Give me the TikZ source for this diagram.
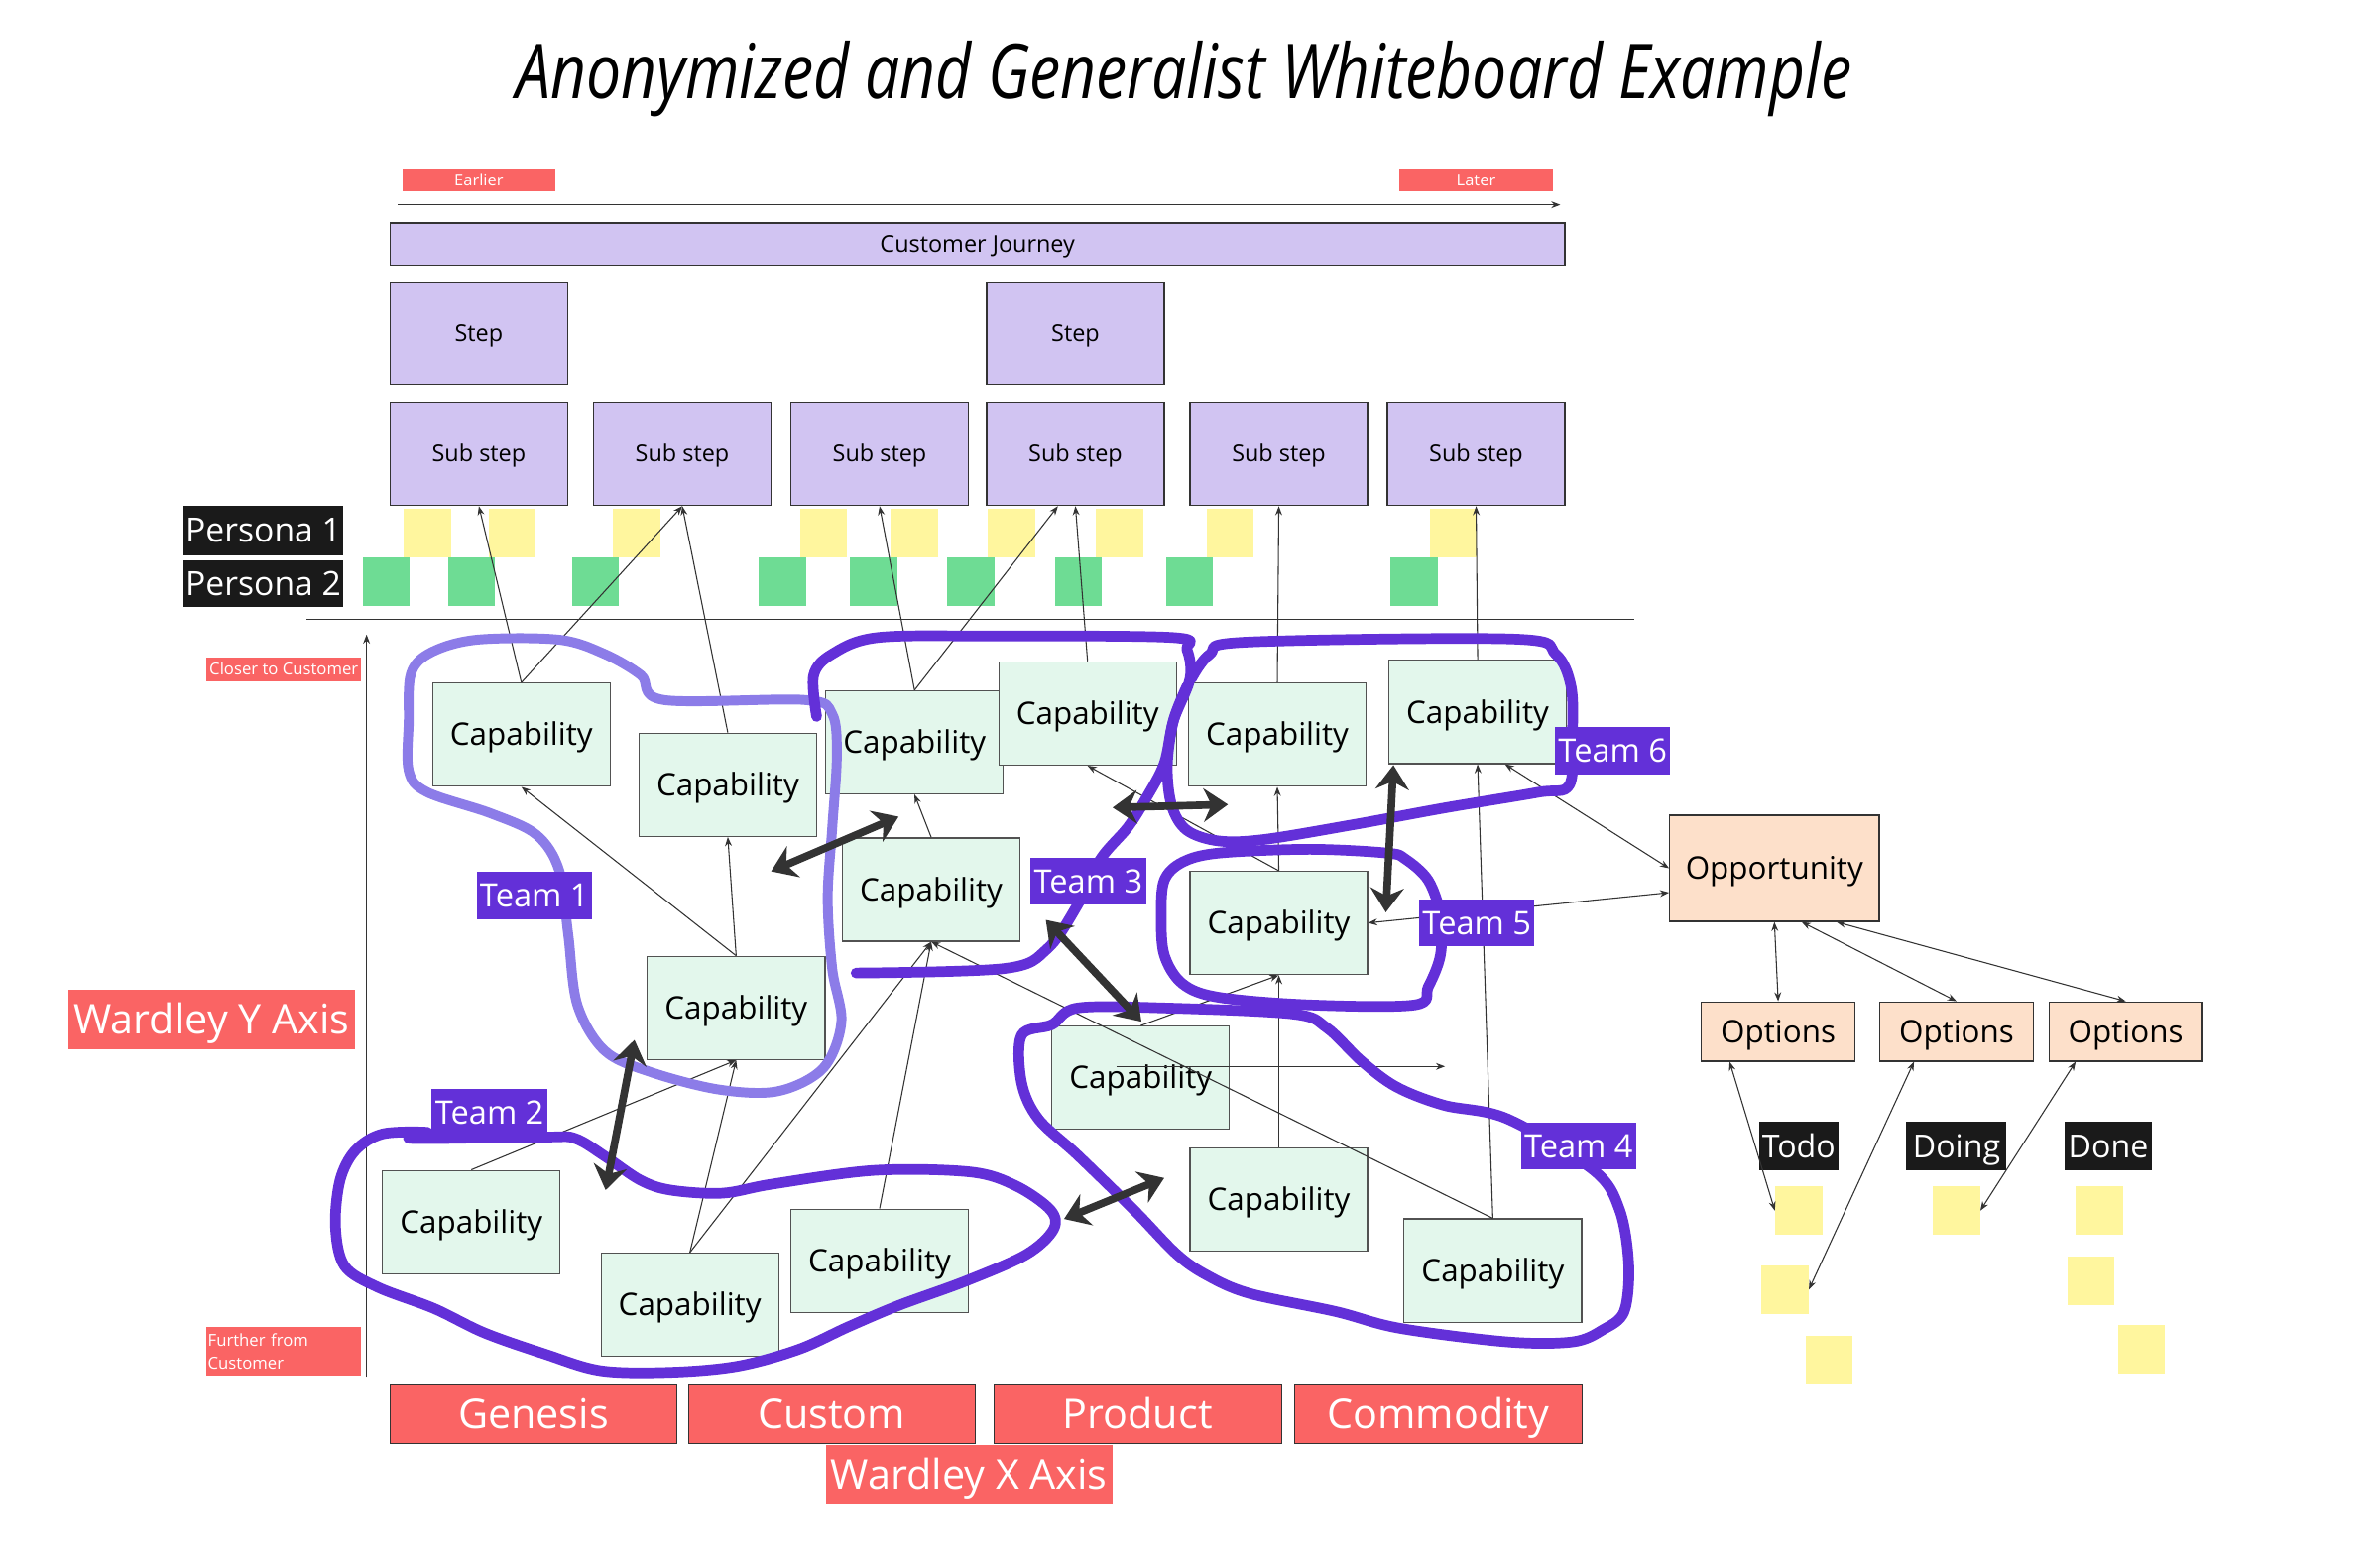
\documentclass[tikz,border=0pt]{standalone}
\usepackage{fontspec}
\setmainfont{Open Sans}
\usepackage{graphicx}
\usetikzlibrary{arrows.meta}

\definecolor{lav}{RGB}{209,196,242}
\definecolor{mint}{RGB}{227,247,236}
\definecolor{peach}{RGB}{253,224,202}
\definecolor{coral}{RGB}{250,100,100}
\definecolor{stickyyellow}{RGB}{255,246,158}
\definecolor{stickygreen}{RGB}{110,220,148}
\definecolor{teamdark}{RGB}{99,48,216}
\definecolor{teamlight}{RGB}{140,124,232}
\definecolor{ink}{RGB}{51,51,51}
\definecolor{tagblack}{RGB}{26,26,26}

\begin{document}
\begin{tikzpicture}[x=1pt, y=-1pt,
  journey/.style={draw=ink, fill=lav, line width=0.8pt, inner sep=0pt, text height=10.9pt, text depth=0pt, font=\fontsize{15.3}{18}\selectfont},
  capbox/.style={draw=ink!85, fill=mint, line width=0.8pt, minimum width=117pt, minimum height=68pt, inner sep=0pt, text height=14.6pt, text depth=0pt, font=\fontsize{20.5}{24}\selectfont},
  peachbox/.style={draw=ink, fill=peach, line width=0.8pt, inner sep=0pt, text height=14.6pt, text depth=0pt, font=\fontsize{20.5}{24}\selectfont},
  redtag/.style={fill=coral, text=white, inner sep=0pt},
  bigtag/.style={redtag, minimum width=189pt, minimum height=39pt, text height=19.3pt, text depth=0pt, font=\fontsize{27}{30}\selectfont},
  blacktag/.style={fill=tagblack, text=white, inner sep=0pt, text height=15.7pt, text depth=0pt, font=\fontsize{22}{26}\selectfont},
  teamtag/.style={fill=teamdark, text=white, minimum width=76pt, minimum height=31pt, inner sep=0pt, text height=15.2pt, text depth=0pt, font=\fontsize{21.3}{24}\selectfont},
  yellownote/.style={fill=stickyyellow, minimum width=31pt, minimum height=32pt, inner sep=0pt},
  greennote/.style={fill=stickygreen, minimum width=31pt, minimum height=32pt, inner sep=0pt},
  link/.style={draw=ink, line width=0.7pt, -{Stealth[length=6pt,width=4.5pt]}},
  twolink/.style={draw=ink, line width=0.7pt, {Stealth[length=6pt,width=4.5pt]}-{Stealth[length=6pt,width=4.5pt]}},
  bigarrow/.style={draw=ink, line width=5pt, {Stealth[length=16pt,width=22pt]}-{Stealth[length=16pt,width=22pt]}},
  blob/.style={draw=teamdark, line width=7pt, line cap=round, line join=round}
]
\useasboundingbox (0,0) rectangle (1568,1030);

% Title
\node[inner sep=0pt] (title) at (780,52) {\resizebox*{880pt}{50pt}{\itshape Anonymized and Generalist Whiteboard Example}};

% Timeline
\node[redtag, minimum width=101pt, minimum height=15pt, text height=7.6pt, text depth=0pt, font=\fontsize{10.8}{12}\selectfont] (earlier) at (315.5,118.5) {Earlier};
\node[redtag, minimum width=101pt, minimum height=15pt, text height=7.6pt, text depth=0pt, font=\fontsize{10.8}{12}\selectfont] (later) at (972.5,118.5) {Later};
\coordinate (tlstart) at (262,135);
\coordinate (tlend) at (1028,135);
\draw[link] (tlstart) -- (tlend);

% Journey, steps and sub steps
\node[journey, minimum width=774pt, minimum height=28pt] (cj) at (644,161) {Customer Journey};
\node[journey, minimum width=117pt, minimum height=67pt] (step1) at (315.5,219.5) {Step};
\node[journey, minimum width=117pt, minimum height=67pt] (step2) at (708.5,219.5) {Step};
\node[journey, minimum width=117pt, minimum height=68pt] (ss1) at (315.5,299) {Sub step};
\node[journey, minimum width=117pt, minimum height=68pt] (ss2) at (449.5,299) {Sub step};
\node[journey, minimum width=117pt, minimum height=68pt] (ss3) at (579.5,299) {Sub step};
\node[journey, minimum width=117pt, minimum height=68pt] (ss4) at (708.5,299) {Sub step};
\node[journey, minimum width=117pt, minimum height=68pt] (ss5) at (842.5,299) {Sub step};
\node[journey, minimum width=117pt, minimum height=68pt] (ss6) at (972.5,299) {Sub step};

% Personas
\node[blacktag, minimum width=105pt, minimum height=33pt] (persona1) at (173.5,349.5) {Persona 1};
\node[blacktag, minimum width=105pt, minimum height=31pt] (persona2) at (173.5,384.5) {Persona 2};

% Persona 1 notes
\node[yellownote] (y1) at (281.5,351) {};
\node[yellownote] (y2) at (337.5,351) {};
\node[yellownote] (y3) at (419.5,351) {};
\node[yellownote] (y4) at (542.5,351) {};
\node[yellownote] (y5) at (602.5,351) {};
\node[yellownote] (y6) at (666.5,351) {};
\node[yellownote] (y7) at (737.5,351) {};
\node[yellownote] (y8) at (810.5,351) {};
\node[yellownote] (y9) at (957.5,351) {};

% Persona 2 notes
\node[greennote] (g1) at (254.5,383) {};
\node[greennote] (g2) at (310.5,383) {};
\node[greennote] (g3) at (392.5,383) {};
\node[greennote] (g4) at (515.5,383) {};
\node[greennote] (g5) at (575.5,383) {};
\node[greennote] (g6) at (639.5,383) {};
\node[greennote] (g7) at (710.5,383) {};
\node[greennote] (g8) at (783.5,383) {};
\node[greennote] (g9) at (931.5,383) {};

% Separator and axes
\coordinate (sepleft) at (202,408);
\coordinate (sepright) at (1077,408);
\draw[draw=ink, line width=1.2pt] (sepleft) -- (sepright);
\coordinate (ybottom) at (241.5,907);
\coordinate (ytop) at (241.5,418);
\draw[link] (ybottom) -- (ytop);
\node[redtag, minimum width=102pt, minimum height=16pt, text height=7.8pt, text depth=0pt, font=\fontsize{10.9}{12}\selectfont] (closer) at (187,441) {Closer to Customer};
\node[redtag, text width=100pt, align=left, inner sep=1pt, minimum height=32pt, font=\fontsize{10.9}{15}\selectfont] (further) at (187,890) {Further from\\Customer};
\node[bigtag] (yaxis) at (139.5,671.5) {Wardley Y Axis};
\node[bigtag, draw=ink] (genesis) at (351.5,931.5) {Genesis};
\node[bigtag, draw=ink] (custom) at (548,931.5) {Custom};
\node[bigtag, draw=ink] (product) at (749.5,931.5) {Product};
\node[bigtag, draw=ink] (commodity) at (947.5,931.5) {Commodity};
\node[bigtag] (xaxis) at (638.5,971.5) {Wardley X Axis};

% Capabilities
\node[capbox] (c1) at (343.5,484) {Capability};
\node[capbox] (c2) at (479.5,517) {Capability};
\node[capbox] (c3) at (485,664) {Capability};
\node[capbox] (c4) at (602.5,489) {Capability};
\node[capbox] (c5) at (613.5,586) {Capability};
\node[capbox] (c6) at (716.5,470) {Capability};
\node[capbox] (c7) at (841.5,484) {Capability};
\node[capbox] (c8) at (973.5,469) {Capability};
\node[capbox] (c9) at (842.5,608) {Capability};
\node[capbox] (c10) at (751.5,710) {Capability};
\node[capbox] (c11) at (842.5,790) {Capability};
\node[capbox] (c12) at (983.5,837) {Capability};
\node[capbox] (c13) at (310.5,805) {Capability};
\node[capbox] (c14) at (454.5,859.5) {Capability};
\node[capbox] (c15) at (579.5,830.5) {Capability};

% Opportunity, options and board
\node[peachbox, minimum width=138pt, minimum height=70pt] (opp) at (1169,572) {Opportunity};
\node[peachbox, minimum width=101pt, minimum height=39pt] (opt1) at (1171.5,679.5) {Options};
\node[peachbox, minimum width=101pt, minimum height=39pt] (opt2) at (1289,679.5) {Options};
\node[peachbox, minimum width=101pt, minimum height=39pt] (opt3) at (1400.5,679.5) {Options};
\node[blacktag, minimum width=52pt, minimum height=32pt, text height=15pt, font=\fontsize{21}{24}\selectfont] (todo) at (1185,755) {Todo};
\node[blacktag, minimum width=66pt, minimum height=32pt, text height=15pt, font=\fontsize{21}{24}\selectfont] (doing) at (1289,755) {Doing};
\node[blacktag, minimum width=58pt, minimum height=32pt, text height=15pt, font=\fontsize{21}{24}\selectfont] (done) at (1389,755) {Done};
\node[yellownote] (todo1) at (1185,797.5) {};
\node[yellownote] (todo2) at (1176,849.5) {};
\node[yellownote] (todo3) at (1205,896) {};
\node[yellownote] (doing1) at (1289,797.5) {};
\node[yellownote] (done1) at (1383,797.5) {};
\node[yellownote] (done2) at (1377.5,843.5) {};
\node[yellownote] (done3) at (1411,889) {};

% Links up to the sub steps
\draw[link] (c1.north) -- (ss1.south);
\draw[link] (c1.north) -- (ss2.south);
\draw[link] (c2.north) -- (ss2.south);
\draw[link] (c4.north) -- (ss3.south);
\draw[link] (c4.north) -- ([xshift=-11.5pt]ss4.south);
\draw[link] (c6.north) -- (ss4.south);
\draw[link] (c7.north) -- (ss5.south);
\draw[link] (c8.north) -- (ss6.south);

% Links between capabilities
\draw[link] (c3.north) -- (c1.south);
\draw[link] (c3.north) -- (c2.south);
\draw[link] (c5.north) -- (c4.south);
\draw[link] (c13.north) -- (c3.south);
\draw[link] (c14.north) -- (c3.south);
\draw[link] (c14.north) -- (c5.south);
\draw[link] (c15.north) -- (c5.south);
\draw[link] (c12.north) -- (c5.south);
\draw[link] (c9.north) -- (c7.south);
\draw[link] (c9.north) -- (c6.south);
\draw[link] (c10.north) -- (c9.south);
\draw[link] (c11.north) -- (c9.south);
\draw[link] (c12.north) -- (c8.south);
\coordinate (drift) at (952,702.5);
\draw[link] ([xshift=-16pt,yshift=7.5pt]c10.center) -- (drift);

% Links to the opportunity and options
\draw[twolink] ([xshift=18pt]c8.south) -- (opp.west);
\draw[twolink] (c9.east) -- ([yshift=-16pt]opp.west);
\draw[twolink] (opp.south) -- (opt1.north);
\draw[twolink] ([xshift=18pt]opp.south) -- (opt2.north);
\draw[twolink] ([xshift=41pt]opp.south) -- (opt3.north);
\draw[twolink] ([xshift=-32pt]opt1.south) -- (todo1.west);
\draw[twolink] ([xshift=-28pt]opt2.south) -- (todo2.east);
\draw[twolink] ([xshift=-33pt]opt3.south) -- (doing1.east);

% Team outlines
\draw[blob, draw=teamlight, line width=6.5pt] plot[smooth cycle, tension=0.55] coordinates {(270.8,443.6) (284.3,429.6) (314.3,421.4) (368.3,421.4) (398.3,430.8) (422.3,444.8) (437.3,461.1) (530.3,461.1) (548.3,470.4) (551.3,498.4) (548.3,545.1) (545.3,591.7) (548.3,638.4) (554.3,673.4) (542.3,703.7) (512.3,718.9) (473.3,717.7) (428.3,706.1) (398.3,692.1) (380.3,661.7) (374.3,615.1) (368.3,573.1) (353.3,549.8) (323.3,535.8) (281.3,521.8) (269.3,507.8) (269.3,475.1)};
\draw[blob] plot[smooth, tension=0.55] coordinates {(564,641) (662,638) (690,625) (710,596) (725,566) (743,545) (755,526) (767,503) (773,475) (784,447) (782,428) (773,420) (653,419) (578,420) (548,431) (536,445) (538,472)};
\draw[blob] plot[smooth, tension=0.55] coordinates {(785,447) (797,431) (821,423) (998,421) (1025,431) (1035,452) (1036,482) (1034,517) (1013,522) (953,532) (893,543) (833,553) (803,554) (782,547) (772,531) (769,505) (773,475) (782,452)};
\draw[blob] plot[smooth cycle, tension=0.55] coordinates {(926,566) (941,580) (949,603) (949,629) (941,650) (932,662) (863,662) (803,657) (779,648) (767,629) (765,603) (767,580) (779,568) (803,562) (863,559.5) (914,562)};
\draw[blob] plot[smooth cycle, tension=0.55] coordinates {(673,682) (693,675) (710,664) (767,664) (852,668) (874,677) (897,699) (920,716) (951,728) (993,737) (1050,771) (1067,797) (1073,833) (1070,864) (1056,876) (1036,884) (993,884) (922,875) (880,864) (823,852) (795,840) (775,826) (747,797) (710,761) (684,737) (673,713)};
\draw[blob] plot[smooth cycle, tension=0.55] coordinates {(282,746) (252,747) (234,758) (224,777.5) (221,808) (227,834) (249,848) (286,862) (319,878) (359,892) (396,903) (442,904) (486,900) (526,889) (559,874) (592,860) (636,844) (676,826.5) (694,810) (692,797) (669,781) (639,772) (576,771) (509,780) (476,786) (442,784) (422,777.5) (399,762) (379,750) (359,749) (272,750)};

% Team labels
\node[teamtag] (team1) at (352,590) {Team 1};
\node[teamtag] (team2) at (322.5,733) {Team 2};
\node[teamtag] (team3) at (717,580.5) {Team 3};
\node[teamtag] (team4) at (1040,755) {Team 4};
\node[teamtag] (team5) at (973,608) {Team 5};
\node[teamtag] (team6) at (1062.5,494.5) {Team 6};

% Team interactions
\coordinate (a1a) at (508,574);
\coordinate (a1b) at (592,538);
\coordinate (a2a) at (418,685);
\coordinate (a2b) at (399,784);
\coordinate (a3a) at (733,532);
\coordinate (a3b) at (809,530);
\coordinate (a4a) at (918,504);
\coordinate (a4b) at (913,601);
\coordinate (a5a) at (689,606);
\coordinate (a5b) at (752,673);
\coordinate (a6a) at (701,803);
\coordinate (a6b) at (767,776);
\draw[bigarrow] (a1a) -- (a1b);
\draw[bigarrow] (a2a) -- (a2b);
\draw[bigarrow] (a3a) -- (a3b);
\draw[bigarrow] (a4a) -- (a4b);
\draw[bigarrow] (a5a) -- (a5b);
\draw[bigarrow] (a6a) -- (a6b);

\end{tikzpicture}
\end{document}
